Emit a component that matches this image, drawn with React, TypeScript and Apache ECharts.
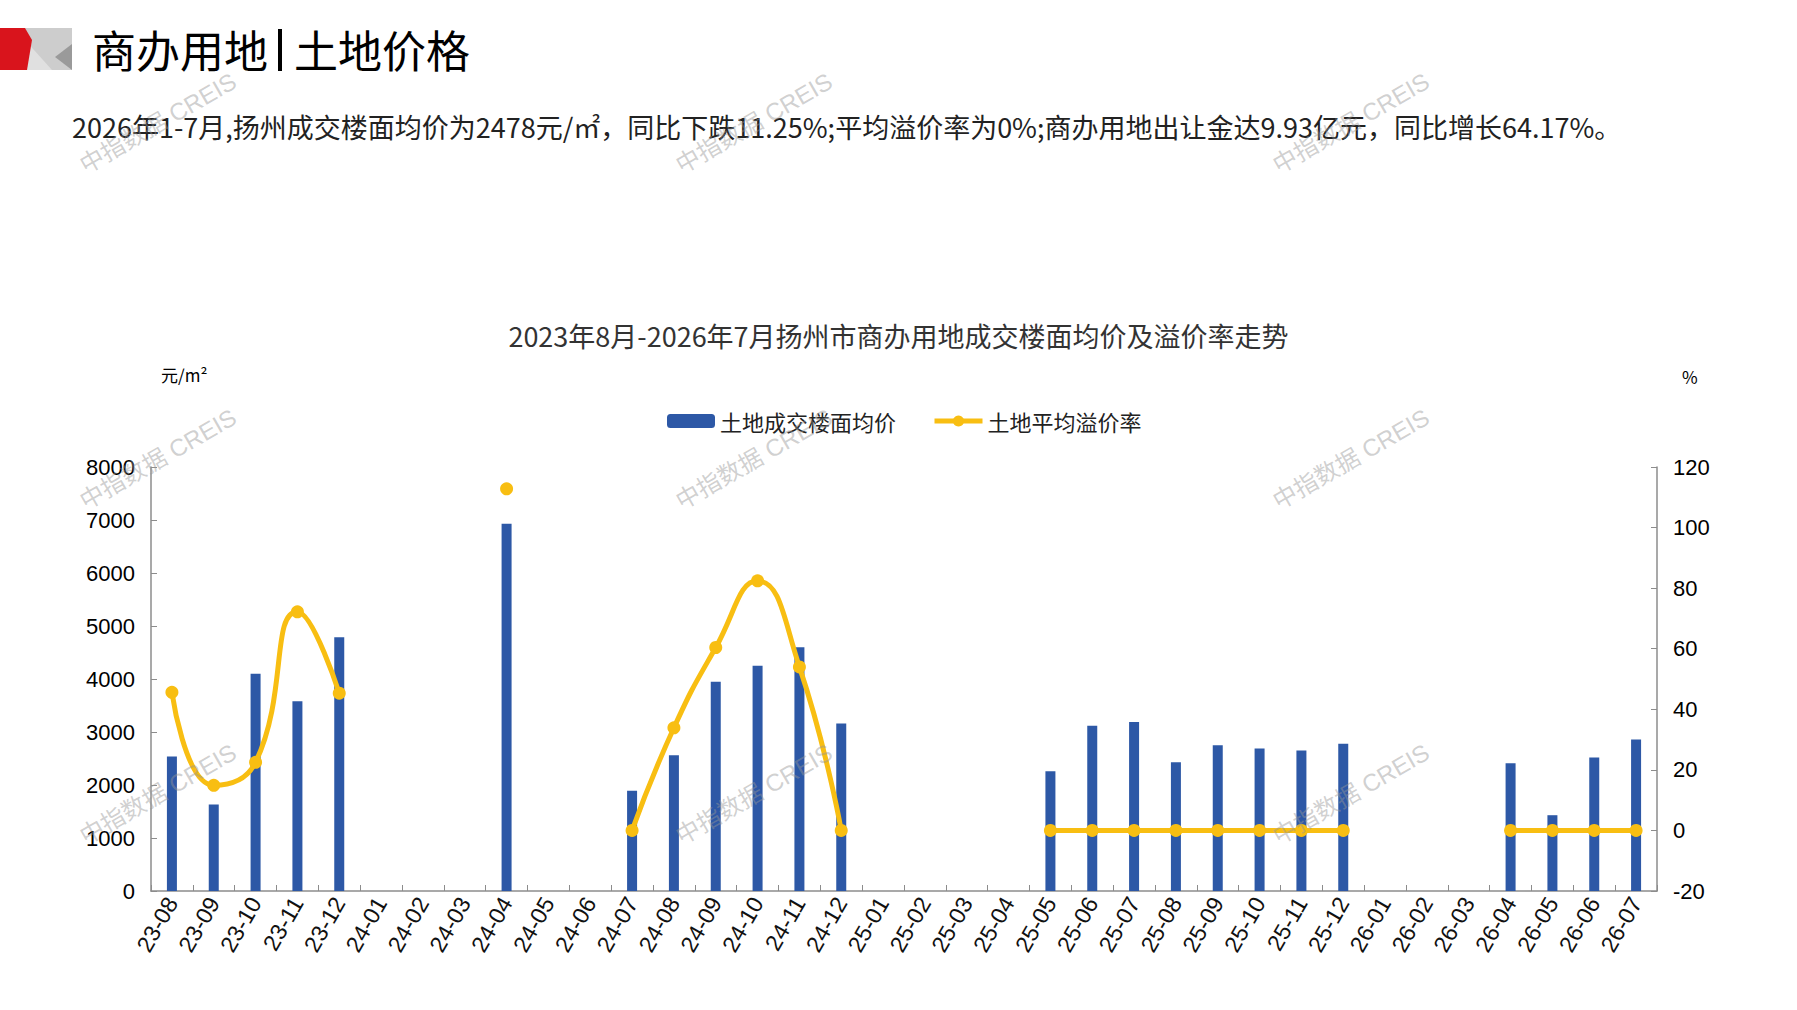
import React, { useEffect, useRef } from "react";
import * as echarts from "echarts";

const categories = [
  "23-08", "23-09", "23-10", "23-11", "23-12",
  "24-01", "24-02", "24-03", "24-04", "24-05", "24-06", "24-07", "24-08", "24-09", "24-10", "24-11", "24-12",
  "25-01", "25-02", "25-03", "25-04", "25-05", "25-06", "25-07", "25-08", "25-09", "25-10", "25-11", "25-12",
  "26-01", "26-02", "26-03", "26-04", "26-05", "26-06", "26-07",
];

const priceValues = [
  2540, 1630, 4100, 3580, 4790,
  null, null, null, 6930, null, null, 1890, 2560, 3950, 4250, 4600, 3160,
  null, null, null, null, 2260, 3120, 3190, 2430, 2750, 2690, 2650, 2780,
  null, null, null, 2410, 1430, 2520, 2860,
];

const rateValues = [
  45.6, 14.9, 22.5, 72.2, 45.3,
  null, null, null, 112.8, null, null, 0, 33.9, 60.4, 82.4, 54.0, 0,
  null, null, null, null, 0, 0, 0, 0, 0, 0, 0, 0,
  null, null, null, 0, 0, 0, 0,
];

const leftTicks = { min: 0, max: 8000, interval: 1000 };
const rightTicks = { min: -20, max: 120, interval: 20 };

const seriesNames = ["土地成交楼面均价", "土地平均溢价率"];
const headerLeft = "商办用地";
const headerRight = "土地价格";
const summaryText =
  "2026年1-7月,扬州成交楼面均价为2478元/㎡，同比下跌11.25%;平均溢价率为0%;商办用地出让金达9.93亿元，同比增长64.17%。";
const chartTitle = "2023年8月-2026年7月扬州市商办用地成交楼面均价及溢价率走势";
const leftUnit = "元/m²";
const rightUnit = "%";
const watermark = "中指数据 CREIS";

const CJK = '"Noto Sans CJK SC", "Noto Sans", sans-serif';
const NUM = '"Liberation Sans", "Noto Sans CJK SC", sans-serif';
const BAR_COLOR = "#2D58A6";
const LINE_COLOR = "#F8BE12";
const AXIS_COLOR = "#8C8C8C";

export default function App() {
  const ref = useRef<HTMLDivElement>(null);

  useEffect(() => {
    if (!ref.current) return;
    const chart = echarts.init(ref.current, null, { renderer: "svg" });

    const wmPositions = [
      [158, 123], [754, 123], [1351, 123],
      [158, 459], [754, 459], [1351, 459],
      [158, 794], [754, 794], [1351, 794],
    ];

    const graphic: any[] = [
      { type: "rect", shape: { x: 25, y: 28, width: 47, height: 42 }, style: { fill: "#CDCDCD" }, z: 10 },
      { type: "polygon", shape: { points: [[25, 40], [25, 70], [52, 70]] }, style: { fill: "#E0E0E0" }, z: 11 },
      { type: "polygon", shape: { points: [[72, 44], [72, 70], [55, 57]] }, style: { fill: "#9A9A9A" }, z: 11 },
      { type: "polygon", shape: { points: [[0, 28], [25, 28], [32, 40], [27, 70], [0, 70]] }, style: { fill: "#D9141C" }, z: 12 },
      {
        type: "text", left: 92, top: 27, z: 10,
        style: { text: headerLeft, font: `44px ${CJK}`, fill: "#000" },
      },
      { type: "rect", shape: { x: 278, y: 29, width: 4, height: 42 }, style: { fill: "#000" }, z: 10 },
      {
        type: "text", left: 294, top: 27, z: 10,
        style: { text: headerRight, font: `44px ${CJK}`, fill: "#000" },
      },
      {
        type: "text", left: 72, top: 113, z: 10,
        style: { text: summaryText, font: `27px ${CJK}`, fill: "#222" },
      },
      {
        type: "text", left: 161, top: 366, z: 10,
        style: { text: leftUnit, font: `17px ${CJK}`, fill: "#000" },
      },
      {
        type: "text", left: 1682, top: 368, z: 10,
        style: { text: rightUnit, font: `17px ${CJK}`, fill: "#000" },
      },
    ];

    wmPositions.forEach(([x, y]) => {
      graphic.push({
        type: "text",
        x,
        y,
        rotation: Math.PI / 6,
        z: 100,
        silent: true,
        style: {
          text: watermark,
          font: `24px ${NUM}`,
          fill: "rgba(150,150,150,0.45)",
          align: "center",
          verticalAlign: "middle",
        },
      });
    });

    const axisLabelFmt = (v: number) => String(v);

    chart.setOption({
      animation: false,
      backgroundColor: "#ffffff",
      title: {
        text: chartTitle,
        left: "center",
        top: 317,
        textStyle: { fontSize: 27, fontWeight: "normal", color: "#333", fontFamily: CJK },
      },
      legend: {
        left: 662,
        top: 405,
        itemWidth: 48,
        itemHeight: 14,
        itemGap: 36,
        textStyle: { fontSize: 22, color: "#222", fontFamily: CJK },
        data: [
          { name: seriesNames[0] },
          { name: seriesNames[1], lineStyle: { width: 5 } as any },
        ],
      },
      grid: { left: 151, right: 140, top: 467, bottom: 119 },
      xAxis: {
        type: "category",
        data: categories,
        boundaryGap: true,
        axisLine: { lineStyle: { color: AXIS_COLOR, width: 1.5 } },
        axisTick: { show: true, inside: true, length: 6, interval: 0, lineStyle: { color: AXIS_COLOR } },
        axisLabel: { interval: 0, rotate: 60, fontSize: 23, color: "#111", fontFamily: NUM, margin: 8 },
        splitLine: { show: false },
      },
      yAxis: [
        {
          type: "value",
          min: leftTicks.min,
          max: leftTicks.max,
          interval: leftTicks.interval,
          splitLine: { show: false },
          axisLine: { show: true, lineStyle: { color: AXIS_COLOR, width: 1.5 } },
          axisTick: { show: true, inside: true, length: 6, lineStyle: { color: AXIS_COLOR } },
          axisLabel: { fontSize: 22, color: "#000", fontFamily: NUM, margin: 16, formatter: axisLabelFmt },
        },
        {
          type: "value",
          position: "right",
          min: rightTicks.min,
          max: rightTicks.max,
          interval: rightTicks.interval,
          splitLine: { show: false },
          axisLine: { show: true, lineStyle: { color: AXIS_COLOR, width: 1.5 } },
          axisTick: { show: true, inside: true, length: 6, lineStyle: { color: AXIS_COLOR } },
          axisLabel: { fontSize: 22, color: "#000", fontFamily: NUM, margin: 16, formatter: axisLabelFmt },
        },
      ],
      series: [
        {
          name: seriesNames[0],
          type: "bar",
          data: priceValues,
          barWidth: 10,
          itemStyle: { color: BAR_COLOR },
        },
        {
          name: seriesNames[1],
          type: "line",
          yAxisIndex: 1,
          data: rateValues,
          smooth: 0.5,
          connectNulls: false,
          symbol: "circle",
          symbolSize: 13,
          showSymbol: true,
          lineStyle: { width: 5, color: LINE_COLOR },
          itemStyle: { color: LINE_COLOR },
        },
      ],
      graphic,
    });

    return () => chart.dispose();
  }, []);

  return (
    <div
      ref={ref}
      style={{ position: "fixed", left: 0, top: 0, width: 1797, height: 1010, background: "#fff" }}
    />
  );
}
